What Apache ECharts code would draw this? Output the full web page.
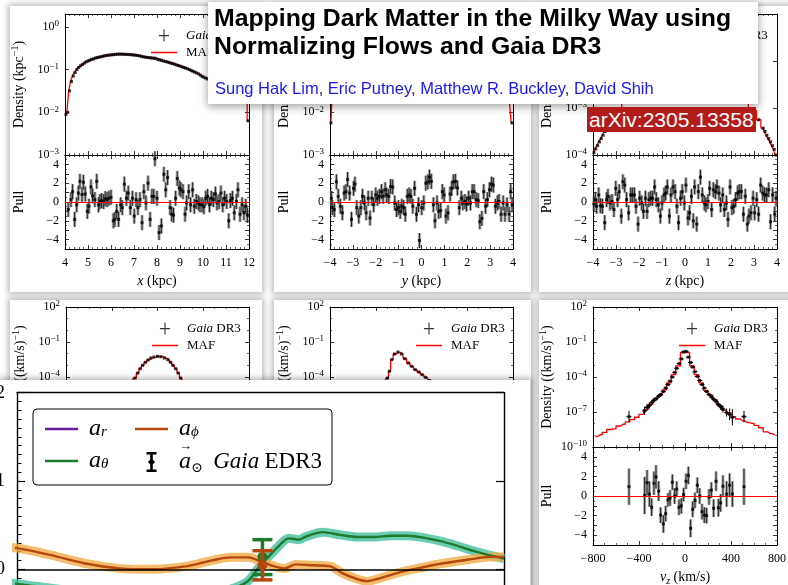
<!DOCTYPE html>
<html>
<head>
<meta charset="utf-8">
<script src="https://cdn.jsdelivr.net/npm/echarts@6.0.0/dist/echarts.min.js"></script>
<style>
  html, body { margin:0; padding:0; background:#fff; }
  body { width:788px; height:585px; position:relative; overflow:hidden; }
  .card { position:absolute; background:#fff; box-shadow:0 0 6px 2px rgba(0,0,0,0.28); }
  #panels { position:absolute; left:0; top:0; width:788px; height:585px; }
  #ovwrap { position:absolute; left:0; top:380px; width:530px; height:205px; overflow:hidden; background:#fff; box-shadow:0 0 6px 2px rgba(0,0,0,0.3); }
  #overlay { position:absolute; left:0; top:0; width:530px; height:290px; }
  #title { position:absolute; left:208px; top:2px; width:550px; height:102px; background:#fff; box-shadow:0 2px 8px 1px rgba(0,0,0,0.35); font-family:'Liberation Sans', Arial, sans-serif; }
  #title .t { position:absolute; left:6px; top:2px; font-weight:bold; font-size:24.8px; line-height:28px; color:#000; white-space:nowrap; }
  #title .a { position:absolute; left:7px; top:76px; font-size:16.5px; line-height:20px; color:#222; white-space:nowrap; }
  #title .a span { color:#1a1ae6; }
  #arxiv { position:absolute; left:587px; top:107px; height:25px; padding:0 2px; background:#b31b1b; color:#fff; font-family:'Liberation Sans', Arial, sans-serif; font-size:21px; line-height:25px; white-space:nowrap; }
</style>
</head>
<body>
<div class="card" style="left:10px;top:6px;width:252px;height:286px"></div>
<div class="card" style="left:274px;top:6px;width:257px;height:286px"></div>
<div class="card" style="left:539px;top:6px;width:260px;height:286px"></div>
<div class="card" style="left:10px;top:300px;width:252px;height:300px"></div>
<div class="card" style="left:274px;top:300px;width:257px;height:300px"></div>
<div class="card" style="left:539px;top:300px;width:260px;height:300px"></div>
<div id="panels"></div>
<div id="ovwrap"><div id="overlay"></div></div>
<div id="title">
  <div class="t">Mapping Dark Matter in the Milky Way using<br>Normalizing Flows and Gaia DR3</div>
  <div class="a"><span>Sung Hak Lim</span>, <span>Eric Putney</span>, <span>Matthew R. Buckley</span>, <span>David Shih</span></div>
</div>
<div id="arxiv">arXiv:2305.13358</div>
<script>
// ---------------- DATA ----------------
// Top-left: x (kpc) density (log10 values) and pulls
const tlDensX = [4.04,4.12,4.20,4.28,4.36,4.44,4.52,4.60,4.68,4.76,4.84,4.92,5.00,5.08,5.16,5.24,5.32,5.40,5.48,5.56,5.64,5.72,5.80,5.88,5.96,6.04,6.12,6.20,6.28,6.36,6.44,6.52,6.60,6.68,6.76,6.84,6.92,7.00,7.08,7.16,7.24,7.32,7.40,7.48,7.56,7.64,7.72,7.80,7.88,7.96,8.04,8.12,8.20,8.28,8.36,8.44,8.52,8.60,8.68,8.76,8.84,8.92,9.00,9.08,9.16,9.24,9.32,9.40,9.48,9.56,9.64,9.72,9.80,9.88,9.96,10.04,10.12,10.20,10.28,10.36,10.44,10.52,10.60,10.68,10.76,10.84,10.92,11.00,11.08,11.16,11.24,11.32,11.40,11.48,11.56,11.64,11.72,11.80,11.88,11.96];
const tlDensLog = [-2.05,-2.0,-1.5,-1.28,-1.15,-1.07,-1.0,-0.95,-0.91,-0.88,-0.85,-0.82,-0.8,-0.78,-0.76,-0.75,-0.73,-0.72,-0.71,-0.7,-0.69,-0.68,-0.67,-0.665,-0.66,-0.655,-0.65,-0.645,-0.64,-0.64,-0.64,-0.64,-0.645,-0.645,-0.65,-0.65,-0.655,-0.66,-0.665,-0.67,-0.68,-0.69,-0.70,-0.71,-0.715,-0.72,-0.725,-0.73,-0.735,-0.74,-0.765,-0.775,-0.785,-0.8,-0.81,-0.82,-0.835,-0.85,-0.86,-0.875,-0.89,-0.905,-0.92,-0.935,-0.95,-0.965,-0.98,-1.0,-1.02,-1.04,-1.06,-1.08,-1.1,-1.13,-1.16,-1.18,-1.2,-1.22,-1.24,-1.26,-1.28,-1.3,-1.32,-1.34,-1.36,-1.38,-1.4,-1.42,-1.44,-1.46,-1.48,-1.5,-1.52,-1.54,-1.56,-1.58,-1.6,-1.62,-1.64,-2.2];
const tlPullX = [4.14,4.26,4.33,4.42,4.51,4.58,4.65,4.74,4.80,4.88,4.97,5.04,5.13,5.20,5.30,5.38,5.46,5.52,5.59,5.68,5.75,5.83,5.91,6.00,6.10,6.17,6.25,6.33,6.42,6.49,6.58,6.67,6.75,6.84,6.93,7.01,7.09,7.17,7.26,7.35,7.43,7.52,7.61,7.70,7.78,7.86,7.91,8.00,8.09,8.19,8.30,8.38,8.46,8.57,8.64,8.72,8.81,8.88,8.97,9.04,9.13,9.22,9.29,9.38,9.46,9.55,9.62,9.71,9.80,9.87,9.96,10.04,10.12,10.20,10.28,10.36,10.45,10.54,10.61,10.70,10.78,10.86,10.94,11.03,11.12,11.19,11.28,11.36,11.45,11.52,11.61,11.70,11.78,11.86,11.93];
const tlPull = [-0.8,0.25,1.1,-1.85,-0.3,0.95,2.2,0.8,2.1,0.85,-1.0,-0.45,1.6,0.65,0.25,2.2,-0.3,0.05,0.15,0.05,0.35,0.25,0.4,0.5,-2.0,-1.85,-1.0,-1.85,-0.3,-0.6,1.9,0.4,0.95,-0.6,0.4,-1.5,0.25,-0.6,0.25,-2.2,1.1,-0.1,2.0,-1.85,0.6,0.6,4.6,0.4,-3.25,-2.55,2.95,1.3,2.6,-0.6,-1.3,-1.4,0.4,2.5,1.5,1.3,1.1,-1.3,-0.1,1.1,-0.3,1.3,-0.45,0.05,-0.1,-0.3,-0.3,-0.5,0.4,0.6,-0.3,0.4,0.25,0.85,-0.1,0.05,0.95,-0.3,0.4,0.05,-2.0,0.15,0.4,-1.15,0.05,1.3,-1.3,-0.3,-1.15,-0.45,-1.4];

// Top-middle: y (kpc)
const tmDensX = [-3.96,-3.88,-3.8,-3.72,-3.6,-3.4,-3.0,-2.5,-2.0,-1.5,-1.0,-0.5,0,0.5,1.0,1.5,2.0,2.5,3.0,3.4,3.6,3.72,3.8,3.88,3.96];
const tmDensLog = [-2.25,-1.75,-1.55,-1.42,-1.3,-1.15,-0.95,-0.8,-0.7,-0.62,-0.56,-0.52,-0.5,-0.52,-0.56,-0.62,-0.7,-0.8,-0.95,-1.15,-1.3,-1.42,-1.55,-1.75,-2.25];
const tmPullX = [-3.94,-3.90,-3.81,-3.72,-3.64,-3.55,-3.46,-3.38,-3.30,-3.23,-3.14,-3.06,-2.97,-2.91,-2.83,-2.74,-2.65,-2.58,-2.49,-2.42,-2.33,-2.25,-2.17,-2.09,-2.00,-1.93,-1.84,-1.75,-1.68,-1.59,-1.52,-1.43,-1.35,-1.26,-1.17,-1.09,-1.01,-0.93,-0.86,-0.78,-0.71,-0.62,-0.54,-0.46,-0.38,-0.30,-0.22,-0.13,-0.09,0.01,0.10,0.19,0.28,0.35,0.43,0.52,0.59,0.68,0.75,0.84,0.91,0.99,1.07,1.16,1.25,1.32,1.39,1.48,1.57,1.65,1.74,1.81,1.90,1.97,2.06,2.14,2.22,2.30,2.39,2.48,2.55,2.64,2.72,2.80,2.88,2.97,3.06,3.14,3.23,3.32,3.39,3.48,3.57,3.65,3.74,3.83,3.90,3.96];
const tmPull = [0.4,-0.6,-0.8,2.15,0.6,-0.45,-1.15,0.95,1.1,2.4,0.95,-1.85,1.45,1.9,-0.6,-1.5,-0.6,0.6,-0.1,-1.15,0.4,-1.7,0.4,-0.3,0.75,0.4,0.6,1.1,0.6,1.3,0.75,0.6,1.65,1.6,-0.1,-0.8,-0.6,-1.0,-0.45,-0.6,-1.3,0.6,0.75,0.6,-0.45,1.45,-1.3,-0.3,-4.1,-0.6,-0.1,2.0,2.15,2.65,2.2,-0.3,-2.0,-0.1,-1.0,-0.9,1.1,0.75,-1.5,-1.15,0.85,1.45,2.15,2.2,1.5,-0.6,0.4,-0.1,0.05,-0.2,0.4,-0.1,1.1,1.1,0.25,0.15,-2.1,-1.75,1.1,-0.45,0.25,1.3,1.9,1.8,-0.45,-0.1,0.05,-1.3,-0.1,-1.3,-0.3,-1.3,1.1,-0.3];

// Top-right: z (kpc)
const trDensX = [-3.96,-3.88,-3.8,-3.72,-3.64,-3.56,-3.48,-3.4,-3.2,-3.0,-2.5,-2.0,-1.5,-1.0,-0.5,0,0.5,1.0,1.5,2.0,2.5,3.0,3.2,3.4,3.48,3.56,3.64,3.72,3.8,3.88,3.96];
const trDensLog = [-3.95,-3.87,-3.8,-3.72,-3.65,-3.58,-3.5,-3.43,-3.25,-3.05,-2.6,-2.1,-1.6,-1.2,-0.9,-0.8,-0.9,-1.2,-1.6,-2.1,-2.6,-3.05,-3.25,-3.43,-3.5,-3.58,-3.65,-3.72,-3.8,-3.88,-4.0];
const trPullX = [-3.96,-3.90,-3.84,-3.75,-3.68,-3.59,-3.49,-3.41,-3.35,-3.26,-3.17,-3.09,-3.01,-2.93,-2.86,-2.77,-2.70,-2.62,-2.54,-2.45,-2.36,-2.29,-2.20,-2.13,-2.04,-1.97,-1.88,-1.81,-1.72,-1.65,-1.57,-1.49,-1.41,-1.32,-1.25,-1.16,-1.07,-1.00,-0.91,-0.84,-0.77,-0.68,-0.61,-0.52,-0.43,-0.35,-0.28,-0.19,-0.12,-0.03,0.04,0.13,0.20,0.28,0.36,0.42,0.51,0.58,0.67,0.75,0.84,0.91,1.00,1.07,1.16,1.23,1.32,1.39,1.48,1.55,1.64,1.71,1.80,1.87,1.96,2.04,2.12,2.20,2.29,2.36,2.45,2.54,2.62,2.71,2.78,2.87,2.96,3.03,3.12,3.20,3.29,3.38,3.46,3.55,3.64,3.72,3.81,3.90,3.96];
const trPull = [-0.2,0.25,-0.45,0.75,-0.4,-0.45,-2.2,0.25,0.6,-0.1,0.05,-0.8,1.45,0.25,1.1,-1.5,2.15,1.8,0.25,-1.15,0.75,0.75,0.75,-0.45,-2.35,0.4,-0.1,-1.0,0.4,-1.0,0.25,0.4,0.4,1.6,0.25,-0.3,-1.5,-0.1,0.75,0.95,1.6,-1.5,0.75,1.6,1.1,-0.45,-2.2,0.4,1.1,-0.1,1.8,-1.7,-1.15,0.6,-2.0,1.6,-2.35,1.1,2.65,0.75,-0.1,-0.3,0.05,1.45,-0.8,1.3,1.1,1.6,0.95,-0.3,0.75,-0.8,-0.1,-1.85,1.6,-0.6,-0.45,0.25,0.95,1.1,1.1,-1.3,0.6,-2.35,-1.5,-1.15,0.4,-1.15,0.25,-1.3,1.8,0.95,0.75,0.75,1.3,-2.1,0.75,-1.3,0.4];

// Bottom-left and bottom-middle velocity densities (log10)
const blDensX = [-800,-700,-600,-500,-400,-350,-300,-260,-225,-197,-173,-152,-130,-106,-82,-58,-31,0,30,60,90,115,135,160,181,202,225,260,300,350,400,500,600,700,800];
const blDensLog = [-9.5,-9.2,-8.8,-8,-7.0,-6.3,-5.6,-5.0,-4.5,-4.09,-3.66,-3.29,-3.0,-2.74,-2.54,-2.37,-2.29,-2.23,-2.26,-2.37,-2.51,-2.74,-3.0,-3.29,-3.66,-4.09,-4.5,-5.0,-5.6,-6.3,-7.0,-8,-8.8,-9.2,-9.5];
const bmDensX = [-800,-600,-450,-400,-360,-330,-297,-281,-260,-236,-206,-176,-146,-115,-85,-55,-24,5,36,70,120,200,300,400,500,600,800];
const bmDensLog = [-10,-9,-7.5,-7,-6,-5,-4.09,-3.51,-2.51,-2.03,-1.86,-2.03,-2.43,-2.8,-3.09,-3.37,-3.57,-3.8,-4.03,-4.3,-4.8,-5.5,-6.3,-7,-7.8,-8.5,-9.5];

// Bottom-right: v_z (km/s)
const brMafX = [-780,-740,-700,-660,-620,-580,-540,-500,-460,-420,-380,-340,-300,-260,-220,-180,-140,-100,-60,-20,20,60,100,140,180,220,260,300,340,380,420,460,500,540,580,620,660,700,740,780];
const brMafLog = [-9.1,-8.95,-8.75,-8.5,-8.45,-8.2,-8.05,-7.85,-7.65,-7.45,-7.2,-6.8,-6.35,-5.93,-5.6,-5.1,-4.5,-3.8,-3.05,-1.9,-1.9,-3.05,-3.8,-4.5,-5.15,-5.55,-5.95,-6.45,-6.85,-7.05,-7.4,-7.6,-7.75,-7.9,-7.97,-8.15,-8.35,-8.7,-8.85,-8.97];
const brGaiaX = [-487,-351,-330,-310,-290,-270,-252,-229,-212,-188,-168,-148,-130,-110,-90,-72,-52,-32,-12,9,29,49,67,87,107,128,148,168,188,209,229,249,270,290,310,330,362,388,412,513];
const brGaiaLog = [-7.4,-6.9,-6.6,-6.45,-6.2,-6.0,-5.85,-5.65,-5.5,-5.25,-4.95,-4.65,-4.35,-4.0,-3.6,-3.25,-2.85,-2.45,-1.85,-1.8,-2.3,-2.75,-3.15,-3.55,-3.95,-4.3,-4.65,-4.95,-5.25,-5.5,-5.7,-5.9,-6.1,-6.35,-6.55,-6.75,-7.05,-7.2,-7.45,-7.4];
const brGaiaErr = [0.5,0.35,0.3,0.25,0.2,0.2,0.15,0.15,0.1,0.1,0.08,0.06,0.05,0.04,0.03,0.03,0.02,0.02,0.01,0.01,0.02,0.02,0.03,0.03,0.04,0.05,0.06,0.08,0.1,0.1,0.15,0.15,0.2,0.2,0.25,0.3,0.35,0.5,0.7,0.5];
const brPull = [0.95,0.05,1.35,0.2,-1.15,1.3,1.95,0.5,-1.95,-2.85,-1.8,-0.4,-0.2,1.4,0,0.7,-1.15,-1.0,0.15,1.5,2.1,-3.3,-1.35,-0.45,1.1,0,-1.6,-1.95,-2.0,-0.1,0.6,-1.25,1.5,-1.2,-0.7,1.0,0.2,1.1,0.2,0.95];
const brPullErr = [1.85,1.9,1.3,1.3,0.9,1.2,1.2,1.0,0.8,0.9,0.8,0.7,0.8,0.8,0.8,0.8,0.8,0.8,0.7,0.8,0.9,0.9,0.8,0.8,0.8,0.8,0.8,0.8,0.8,0.8,0.8,0.9,1.0,0.9,0.9,1.1,1.3,1.2,1.3,1.85];
const PULL_ERR = 0.8;

// Overlay: acceleration components
const ovPhiX = [-3.5,0,7,14,21,28,35,40,44,47.5,50.2,53,55,57.2,60.7,64.2,67,69.8,71.9,74,78.2,82.3,87.2,92.8,97,100];
const ovPhi = [0.25,0.24,0.16,0.065,0.01,0.0,0.035,0.1,0.135,0.135,0.085,0.03,0.01,0.055,0.045,0.035,-0.05,-0.11,-0.135,-0.11,-0.04,0.01,0.065,0.11,0.14,0.14];
const ovThetaX = [-3.5,0,3.5,10.5,17.4,24.4,31.4,38.4,44.7,47.5,49.5,51.6,53.7,55.8,57.9,59.3,62.8,66.3,69.8,73.3,76.8,80.3,83.7,87.2,90.7,94.2,100];
const ovTheta = [-0.146,-0.165,-0.19,-0.24,-0.3,-0.33,-0.33,-0.3,-0.21,-0.13,0.01,0.14,0.26,0.35,0.335,0.37,0.42,0.39,0.365,0.365,0.38,0.38,0.355,0.315,0.26,0.2,0.12];
const ovRX = [-3.5,20,40,60,80,100];
const ovR = [-0.7,-0.75,-0.8,-0.75,-0.7,-0.65];
const edr3Theta = [50.4, 0.14, -0.06, 0.335];
const edr3Phi = [50.4, 0.046, -0.12, 0.21];

// ---------------- HELPERS ----------------
const SERIF = "'Liberation Serif', 'DejaVu Serif', serif";
const zip = (a, b) => a.map((v, i) => [v, b[i]]);
const zip3 = (a, b, c) => a.map((v, i) => [v, b[i], c[i]]);
function minus(v) { return v < 0 ? '\u2212' + (-v) : String(v); }
function expFmt(v) { const r = Math.round(v); if (Math.abs(v - r) > 1e-6) return ''; return '10{s|' + minus(r) + '}'; }
function pullFmt(v) { const r = Math.round(v); return (Math.abs(v - r) < 1e-6 && r % 2 === 0) ? minus(r) : ''; }
function xFmt(v) { return minus(Math.round(v * 100) / 100); }
const LABEL_RICH = { s: { fontFamily: SERIF, fontSize: 9, lineHeight: 9, verticalAlign: 'top', color: '#000' } };
const NAME_RICH = {
  i: { fontFamily: SERIF, fontSize: 14, fontStyle: 'italic', color: '#000' },
  s: { fontFamily: SERIF, fontSize: 10, lineHeight: 10, verticalAlign: 'top', color: '#000' },
  b: { fontFamily: SERIF, fontSize: 10, lineHeight: 10, verticalAlign: 'bottom', fontStyle: 'italic', color: '#000' }
};
const CROSS_ICON = 'path://M0,6h11v1.2h-11z M4.9,0h1.2v13h-1.2z';
const LINE_ICON = 'path://M0,0h26v1.5h-26z';

const grids = [], xAxes = [], yAxes = [], series = [], legends = [];

function mkAxis(o) {
  return {
    type: 'value', gridIndex: o.g, position: o.pos, min: o.min, max: o.max, interval: o.int,
    axisLine: { show: true, onZero: false, lineStyle: { color: '#000', width: 1 } },
    axisTick: { show: true, inside: true, length: 4, lineStyle: { color: '#000', width: 0.8 } },
    minorTick: { show: !!o.minor, splitNumber: o.minor || 2, length: 2, lineStyle: { color: '#000', width: 0.6 } },
    splitLine: { show: false },
    axisLabel: { show: !!o.fmt, color: '#000', fontFamily: SERIF, fontSize: 12, lineHeight: 15, margin: 6, formatter: o.fmt || null, rich: LABEL_RICH },
    name: o.name || '', nameLocation: 'middle', nameGap: o.gap || 0, nameMoveOverlap: false,
    nameTextStyle: { color: '#000', fontFamily: SERIF, fontSize: 14, lineHeight: 18, rich: NAME_RICH },
    silent: true
  };
}

function buildPanel(p) {
  const gD = grids.length;
  grids.push({ left: p.left, top: p.dTop, width: p.w, height: p.dH, containLabel: false, outerBoundsMode: 'none' });
  const xD = xAxes.length;
  xAxes.push(mkAxis({ g: gD, pos: 'bottom', min: p.xMin, max: p.xMax, int: p.xInt, minor: p.xMinor }));
  xAxes.push(mkAxis({ g: gD, pos: 'top', min: p.xMin, max: p.xMax, int: p.xInt, minor: p.xMinor }));
  const yD = yAxes.length;
  yAxes.push(mkAxis({ g: gD, pos: 'left', min: p.dMin, max: p.dMax, int: p.dInt, minor: p.dMinor, fmt: expFmt, name: p.dName, gap: 37 }));
  yAxes.push(mkAxis({ g: gD, pos: 'right', min: p.dMin, max: p.dMax, int: p.dInt, minor: p.dMinor }));

  series.push({ type: 'line', name: 'MAF', xAxisIndex: xD, yAxisIndex: yD, step: 'middle', symbol: 'none', showSymbol: false,
    data: zip(p.mafX, p.mafLog), lineStyle: { color: '#ff0000', width: 1.3 }, itemStyle: { color: '#ff0000' }, z: 2, silent: true, clip: true });
  if (p.gErr) {
    series.push({ type: 'custom', name: 'gaiaErr', xAxisIndex: xD, yAxisIndex: yD, data: zip3(p.gX, p.gLog, p.gErr), z: 3, silent: true,
      encode: { x: 0, y: 1 },
      renderItem: function (params, api) {
        const x = api.value(0), y = api.value(1), e = api.value(2);
        const c = api.coord([x, y]), t = api.coord([x, y + e]), b = api.coord([x, y - e]);
        return { type: 'group', children: [
          { type: 'line', shape: { x1: c[0], y1: t[1], x2: c[0], y2: b[1] }, style: { stroke: '#000', lineWidth: 1 } },
          { type: 'line', shape: { x1: c[0] - 2.5, y1: c[1], x2: c[0] + 2.5, y2: c[1] }, style: { stroke: '#000', lineWidth: 1 } }
        ] };
      } });
  }
  series.push({ type: 'scatter', name: 'Gaia DR3', xAxisIndex: xD, yAxisIndex: yD, data: zip(p.gX, p.gLog),
    symbol: 'rect', symbolSize: 3, itemStyle: { color: '#000' }, z: 3, silent: true });

  if (p.pX) {
    const gP = grids.length;
    grids.push({ left: p.left, top: p.pTop, width: p.w, height: p.pH, containLabel: false, outerBoundsMode: 'none' });
    const xP = xAxes.length;
    xAxes.push(mkAxis({ g: gP, pos: 'bottom', min: p.xMin, max: p.xMax, int: p.xInt, minor: p.xMinor, fmt: xFmt, name: p.xName, gap: 23 }));
    xAxes.push(mkAxis({ g: gP, pos: 'top', min: p.xMin, max: p.xMax, int: p.xInt, minor: p.xMinor }));
    const yP = yAxes.length;
    yAxes.push(mkAxis({ g: gP, pos: 'left', min: -5, max: 5, int: 1, minor: 2, fmt: pullFmt, name: 'Pull', gap: 37 }));
    yAxes.push(mkAxis({ g: gP, pos: 'right', min: -5, max: 5, int: 1, minor: 2 }));
    const pdata = p.pErr ? zip3(p.pX, p.pY, p.pErr) : zip(p.pX, p.pY);
    series.push({ type: 'custom', name: 'pullErr', xAxisIndex: xP, yAxisIndex: yP, data: pdata, z: 3, silent: true,
      encode: { x: 0, y: 1 },
      renderItem: function (params, api) {
        const x = api.value(0), y = api.value(1);
        const e = p.pErr ? api.value(2) : PULL_ERR;
        const c = api.coord([x, y]), t = api.coord([x, y + e]), b = api.coord([x, y - e]);
        return { type: 'group', children: [
          { type: 'rect', shape: { x: c[0] - 1.5, y: t[1], width: 3, height: b[1] - t[1] }, style: { fill: 'rgba(110,110,110,0.6)' } },
          { type: 'line', shape: { x1: c[0], y1: t[1], x2: c[0], y2: b[1] }, style: { stroke: '#000', lineWidth: 0.8 } }
        ] };
      } });
    series.push({ type: 'scatter', name: 'pull', xAxisIndex: xP, yAxisIndex: yP, data: zip(p.pX, p.pY),
      symbol: 'rect', symbolSize: 3, itemStyle: { color: '#000' }, z: 4, silent: true,
      markLine: { silent: true, symbol: 'none', label: { show: false }, lineStyle: { color: '#ff0000', width: 1, type: 'solid' }, data: [{ yAxis: 0 }] } });
  }

  legends.push({
    show: true, orient: 'vertical', left: p.left + 81, top: p.dTop + 10, itemWidth: 26, itemHeight: 12, itemGap: 4,
    selectedMode: false, symbolKeepAspect: true,
    data: [{ name: 'Gaia DR3', icon: CROSS_ICON, itemStyle: { color: '#000' } }, { name: 'MAF', icon: LINE_ICON }],
    formatter: n => n === 'Gaia DR3' ? '{i|Gaia} DR3' : n,
    textStyle: { color: '#000', fontFamily: SERIF, fontSize: 13, lineHeight: 12, padding: [0, 0, 0, 4],
      rich: { i: { fontStyle: 'italic', fontFamily: SERIF, fontSize: 13, color: '#000' } } }
  });
}

// ---------------- PANELS ----------------
const topRow = { dTop: 14, dH: 141, pTop: 155, pH: 94 };
buildPanel(Object.assign({ left: 65, w: 184, xMin: 4, xMax: 12, xInt: 1, xMinor: 5, dMin: -3, dMax: 0.3, dInt: 1,
  dName: 'Density (kpc{s|\u22121})', xName: '{i|x} (kpc)',
  mafX: tlDensX, mafLog: tlDensLog, gX: tlDensX, gLog: tlDensLog, pX: tlPullX, pY: tlPull }, topRow));
buildPanel(Object.assign({ left: 330, w: 183, xMin: -4, xMax: 4, xInt: 1, xMinor: 5, dMin: -3, dMax: 0.3, dInt: 1,
  dName: 'Density (kpc{s|\u22121})', xName: '{i|y} (kpc)',
  mafX: tmDensX, mafLog: tmDensLog, gX: tmDensX, gLog: tmDensLog, pX: tmPullX, pY: tmPull }, topRow));
buildPanel(Object.assign({ left: 593, w: 184, xMin: -4, xMax: 4, xInt: 1, xMinor: 5, dMin: -4, dMax: -1, dInt: 1,
  dName: 'Density (kpc{s|\u22121})', xName: '{i|z} (kpc)',
  mafX: trDensX, mafLog: trDensLog, gX: trDensX, gLog: trDensLog, pX: trPullX, pY: trPull }, topRow));
const botRow = { dTop: 307, dH: 140, pTop: 447, pH: 98, xMin: -800, xMax: 800, xInt: 400, xMinor: 4, dMin: -10, dMax: 2, dInt: 3, dMinor: 3,
  dName: 'Density ((km/s){s|\u22121})' };
buildPanel(Object.assign({ left: 66, w: 183, mafX: blDensX, mafLog: blDensLog, gX: blDensX, gLog: blDensLog }, botRow));
buildPanel(Object.assign({ left: 330, w: 183, mafX: bmDensX, mafLog: bmDensLog, gX: bmDensX, gLog: bmDensLog }, botRow));
buildPanel(Object.assign({ left: 593, w: 184, xName: '{i|v}{b|z} (km/s)',
  mafX: brMafX, mafLog: brMafLog, gX: brGaiaX, gLog: brGaiaLog, gErr: brGaiaErr,
  pX: brGaiaX, pY: brPull, pErr: brPullErr }, botRow));

const chart = echarts.init(document.getElementById('panels'), null, { renderer: 'canvas' });
chart.setOption({ animation: false, grid: grids, xAxis: xAxes, yAxis: yAxes, series: series, legend: legends, tooltip: { show: false } });

// ---------------- OVERLAY ----------------
const GREEN = '#1f7a2e', GREEN_BAND = '#45c19f', ORANGE = '#b5470f', ORANGE_BAND = '#f0ac48', PURPLE = '#6a1b9a';
const EDR3_COLORS = [GREEN, ORANGE];
const IBEAM = 'path://M0,0h10v2.6h-10z M3.7,0h2.6v20h-2.6z M0,17.4h10v2.6h-10z M5,6.2L8.6,10L5,13.8L1.4,10z';
const OV_LINE_ICON = 'path://M0,0h33v2.6h-33z';
const OV_LABELS = { a_r: '{a|a}{b|r}', a_phi: '{a|a}{b|\u03D5}', a_theta: '{a|a}{b|\u03B8}', edr3: '{a|a}{c|\u2299}  {g|Gaia} {n|EDR3}' };
const OV_RICH = {
  a: { fontFamily: SERIF, fontStyle: 'italic', fontSize: 24, lineHeight: 22, verticalAlign: 'middle', color: '#000' },
  b: { fontFamily: SERIF, fontStyle: 'italic', fontSize: 15, lineHeight: 14, verticalAlign: 'bottom', color: '#000' },
  c: { fontFamily: SERIF, fontSize: 14, lineHeight: 14, verticalAlign: 'bottom', color: '#000' },
  g: { fontFamily: SERIF, fontStyle: 'italic', fontSize: 23, lineHeight: 22, verticalAlign: 'middle', color: '#000' },
  n: { fontFamily: SERIF, fontSize: 23, lineHeight: 22, verticalAlign: 'middle', color: '#000' }
};
const ovLegendBase = {
  orient: 'vertical', itemWidth: 33, itemHeight: 20, itemGap: 8, selectedMode: false, z: 20, symbolKeepAspect: true,
  formatter: n => OV_LABELS[n],
  textStyle: { color: '#000', fontFamily: SERIF, fontSize: 21, lineHeight: 26, padding: [0, 0, 0, 6], rich: OV_RICH }
};
const ovAxisLine = { show: true, onZero: false, lineStyle: { color: '#000', width: 1.4 } };
const ov = echarts.init(document.getElementById('overlay'), null, { renderer: 'canvas' });
ov.setOption({
  animation: false,
  grid: { left: 17, top: 12.6, width: 487, height: 265, containLabel: false, outerBoundsMode: 'none' },
  xAxis: [
    { type: 'value', min: 0, max: 100, position: 'bottom', show: false, splitLine: { show: false } },
    { type: 'value', min: 0, max: 100, position: 'top', axisLine: ovAxisLine, axisTick: { show: false }, axisLabel: { show: false }, splitLine: { show: false } }
  ],
  yAxis: [
    { type: 'value', min: -1, max: 2, interval: 1, position: 'left', axisLine: ovAxisLine,
      axisTick: { show: true, inside: true, length: 8, lineStyle: { color: '#000', width: 1.2 } },
      minorTick: { show: true, splitNumber: 10, length: 4.5, lineStyle: { color: '#000', width: 1 } },
      axisLabel: { color: '#000', fontFamily: SERIF, fontSize: 19, margin: 12, formatter: v => minus(v) }, splitLine: { show: false } },
    { type: 'value', min: -1, max: 2, interval: 1, position: 'right', axisLine: ovAxisLine,
      axisTick: { show: true, inside: true, length: 8, lineStyle: { color: '#000', width: 1.2 } },
      axisLabel: { show: false }, splitLine: { show: false } }
  ],
  graphic: [
    { type: 'rect', z: 10, shape: { x: 33, y: 29, width: 299, height: 76, r: 4 }, style: { fill: '#fff', stroke: '#000', lineWidth: 1 } },
    { type: 'text', z: 30, x: 179, y: 60, style: { text: '\u2192', fontFamily: SERIF, fontSize: 13, fill: '#000' } }
  ],
  legend: [
    Object.assign({ left: 40, top: 32, data: [{ name: 'a_r', icon: OV_LINE_ICON }, { name: 'a_theta', icon: OV_LINE_ICON }] }, ovLegendBase),
    Object.assign({ left: 130, top: 32, data: [{ name: 'a_phi', icon: OV_LINE_ICON }, { name: 'edr3', icon: IBEAM, itemStyle: { color: '#000' } }] }, ovLegendBase)
  ],
  series: [
    { type: 'line', name: 'thetaBand', data: zip(ovThetaX, ovTheta), smooth: 0.3, symbol: 'none', clip: false, silent: true,
      lineStyle: { color: GREEN_BAND, width: 9, opacity: 0.8 }, z: 1 },
    { type: 'line', name: 'phiBand', data: zip(ovPhiX, ovPhi), smooth: 0.3, symbol: 'none', clip: false, silent: true,
      lineStyle: { color: ORANGE_BAND, width: 9, opacity: 0.8 }, z: 1 },
    { type: 'line', name: 'a_r', data: zip(ovRX, ovR), smooth: 0.3, symbol: 'none', clip: false, silent: true,
      lineStyle: { color: PURPLE, width: 2.4 }, itemStyle: { color: PURPLE }, z: 2,
      markLine: { silent: true, symbol: 'none', label: { show: false }, lineStyle: { color: '#000', width: 1.6, type: 'solid' }, data: [{ yAxis: 0 }] } },
    { type: 'line', name: 'a_theta', data: zip(ovThetaX, ovTheta), smooth: 0.3, symbol: 'none', clip: false, silent: true,
      lineStyle: { color: GREEN, width: 2.4 }, itemStyle: { color: GREEN }, z: 3 },
    { type: 'line', name: 'a_phi', data: zip(ovPhiX, ovPhi), smooth: 0.3, symbol: 'none', clip: false, silent: true,
      lineStyle: { color: ORANGE, width: 2.4 }, itemStyle: { color: ORANGE }, z: 3 },
    { type: 'custom', name: 'edr3', data: [edr3Theta, edr3Phi], z: 6, silent: true, itemStyle: { color: '#000' },
      encode: { x: 0, y: 1 },
      renderItem: function (params, api) {
        const x = api.value(0), y = api.value(1), lo = api.value(2), hi = api.value(3);
        const c = api.coord([x, y]), t = api.coord([x, hi]), b = api.coord([x, lo]);
        const col = EDR3_COLORS[params.dataIndex];
        return { type: 'group', children: [
          { type: 'line', shape: { x1: c[0], y1: t[1], x2: c[0], y2: b[1] }, style: { stroke: col, lineWidth: 3.5 } },
          { type: 'line', shape: { x1: c[0] - 10, y1: t[1], x2: c[0] + 10, y2: t[1] }, style: { stroke: col, lineWidth: 3.5 } },
          { type: 'line', shape: { x1: c[0] - 10, y1: b[1], x2: c[0] + 10, y2: b[1] }, style: { stroke: col, lineWidth: 3.5 } },
          { type: 'circle', shape: { cx: c[0], cy: c[1], r: 5 }, style: { fill: col } }
        ] };
      } }
  ]
});
</script>
</body>
</html>
